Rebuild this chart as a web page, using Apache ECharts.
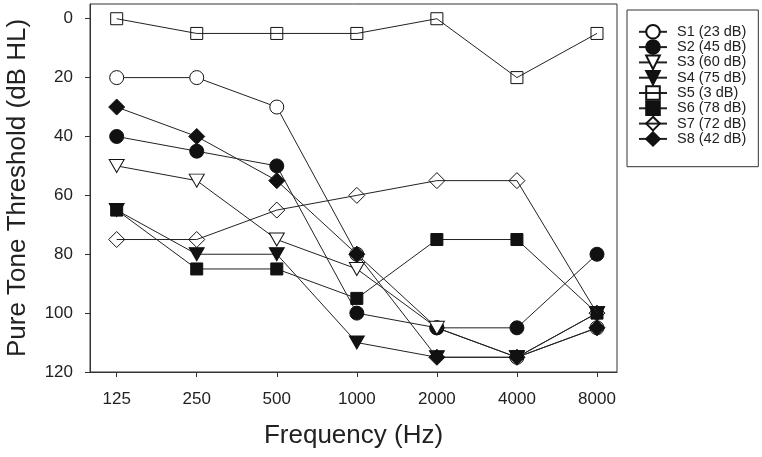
<!DOCTYPE html>
<html>
<head>
<meta charset="utf-8">
<script src="https://cdn.jsdelivr.net/npm/echarts@6/dist/echarts.min.js"></script>
<style>
html,body{margin:0;padding:0;background:#fff;}
#chart{width:762px;height:457px;}
</style>
</head>
<body>
<div id="chart"></div>
<script>
var freqs = ['125', '250', '500', '1000', '2000', '4000', '8000'];
var yTicks = [0, 20, 40, 60, 80, 100, 120];
var seriesNames = ['S1 (23 dB)', 'S2 (45 dB)', 'S3 (60 dB)', 'S4 (75 dB)', 'S5 (3 dB)', 'S6 (78 dB)', 'S7 (72 dB)', 'S8 (42 dB)'];
var S1 = [20, 20, 30, 80, 105, 115, 105];
var S2 = [40, 45, 50, 100, 105, 105, 80];
var S3 = [50, 55, 75, 85, 105, 115, 100];
var S4 = [65, 80, 80, 110, 115, 115, 100];
var S5 = [0, 5, 5, 5, 0, 20, 5];
var S6 = [65, 85, 85, 95, 75, 75, 100];
var S7 = [75, 75, 65, 60, 55, 55, 100];
var S8 = [30, 40, 55, 80, 115, 115, 105];

var allValues = [S1, S2, S3, S4, S5, S6, S7, S8];
var styles = [
  {symbol: 'circle', size: 14, fill: '#ffffff', rotate: 0},
  {symbol: 'circle', size: 14, fill: '#111111', rotate: 0},
  {symbol: 'triangle', size: [15, 13], fill: '#ffffff', rotate: 180},
  {symbol: 'triangle', size: [15, 13], fill: '#111111', rotate: 180},
  {symbol: 'rect', size: 12, fill: 'rgba(255,255,255,0)', rotate: 0},
  {symbol: 'rect', size: 12, fill: '#111111', rotate: 0},
  {symbol: 'diamond', size: 16, fill: 'rgba(255,255,255,0)', rotate: 0},
  {symbol: 'diamond', size: 16, fill: '#111111', rotate: 0}
];

var FONT = '"Liberation Sans", Arial, sans-serif';
var idx = freqs.map(function (f, i) { return i; });

var series = allValues.map(function (vals, k) {
  var st = styles[k];
  return {
    name: seriesNames[k],
    type: 'line',
    data: vals.map(function (v, i) { return [idx[i], v]; }),
    symbol: st.symbol,
    symbolSize: st.size,
    symbolRotate: st.rotate,
    showAllSymbol: true,
    itemStyle: {color: st.fill, borderColor: '#111', borderWidth: 1},
    lineStyle: {color: '#222', width: 1},
    emphasis: {disabled: true},
    z: 2 + k
  };
});

var chart = echarts.init(document.getElementById('chart'), null, {renderer: 'canvas'});
chart.setOption({
  animation: false,
  backgroundColor: '#ffffff',
  textStyle: {fontFamily: FONT},
  grid: {left: 90, right: 145, top: 4, bottom: 85, show: true, borderColor: '#333', borderWidth: 1, containLabel: false, outerBoundsMode: 'none'},
  legend: {
    orient: 'vertical',
    left: 627,
    top: 10,
    itemWidth: 28,
    itemHeight: 17,
    itemGap: -0.3,
    padding: [14, 12, 20, 11],
    borderColor: '#333',
    borderWidth: 1,
    backgroundColor: '#fff',
    textStyle: {fontSize: 14.5, color: '#222', fontFamily: FONT, padding: [0, 0, 0, 5]},
    data: seriesNames
  },
  xAxis: {
    type: 'value',
    min: -1 / 3,
    max: 6.25,
    name: 'Frequency (Hz)',
    nameLocation: 'middle',
    nameGap: 51,
    nameTextStyle: {fontSize: 26, color: '#222', fontFamily: FONT},
    axisLine: {show: true, onZero: false, lineStyle: {color: '#333', width: 1}},
    axisTick: {show: true, inside: false, length: 5, lineStyle: {color: '#333'}, customValues: idx},
    axisLabel: {
      fontSize: 17, color: '#222', margin: 19, fontFamily: FONT,
      customValues: idx,
      formatter: function (v) { return freqs[Math.round(v)]; }
    },
    splitLine: {show: false}
  },
  yAxis: {
    type: 'value',
    inverse: true,
    min: -5,
    max: 120,
    name: 'Pure Tone Threshold (dB HL)',
    nameLocation: 'middle',
    nameGap: 59,
    nameTextStyle: {fontSize: 26, color: '#222', fontFamily: FONT},
    axisLine: {show: true, onZero: false, lineStyle: {color: '#333', width: 1}},
    axisTick: {show: true, inside: false, length: 5, lineStyle: {color: '#333'}, customValues: yTicks},
    axisLabel: {fontSize: 17, color: '#222', margin: 17, fontFamily: FONT, customValues: yTicks},
    splitLine: {show: false}
  },
  series: series
});
</script>
</body>
</html>
